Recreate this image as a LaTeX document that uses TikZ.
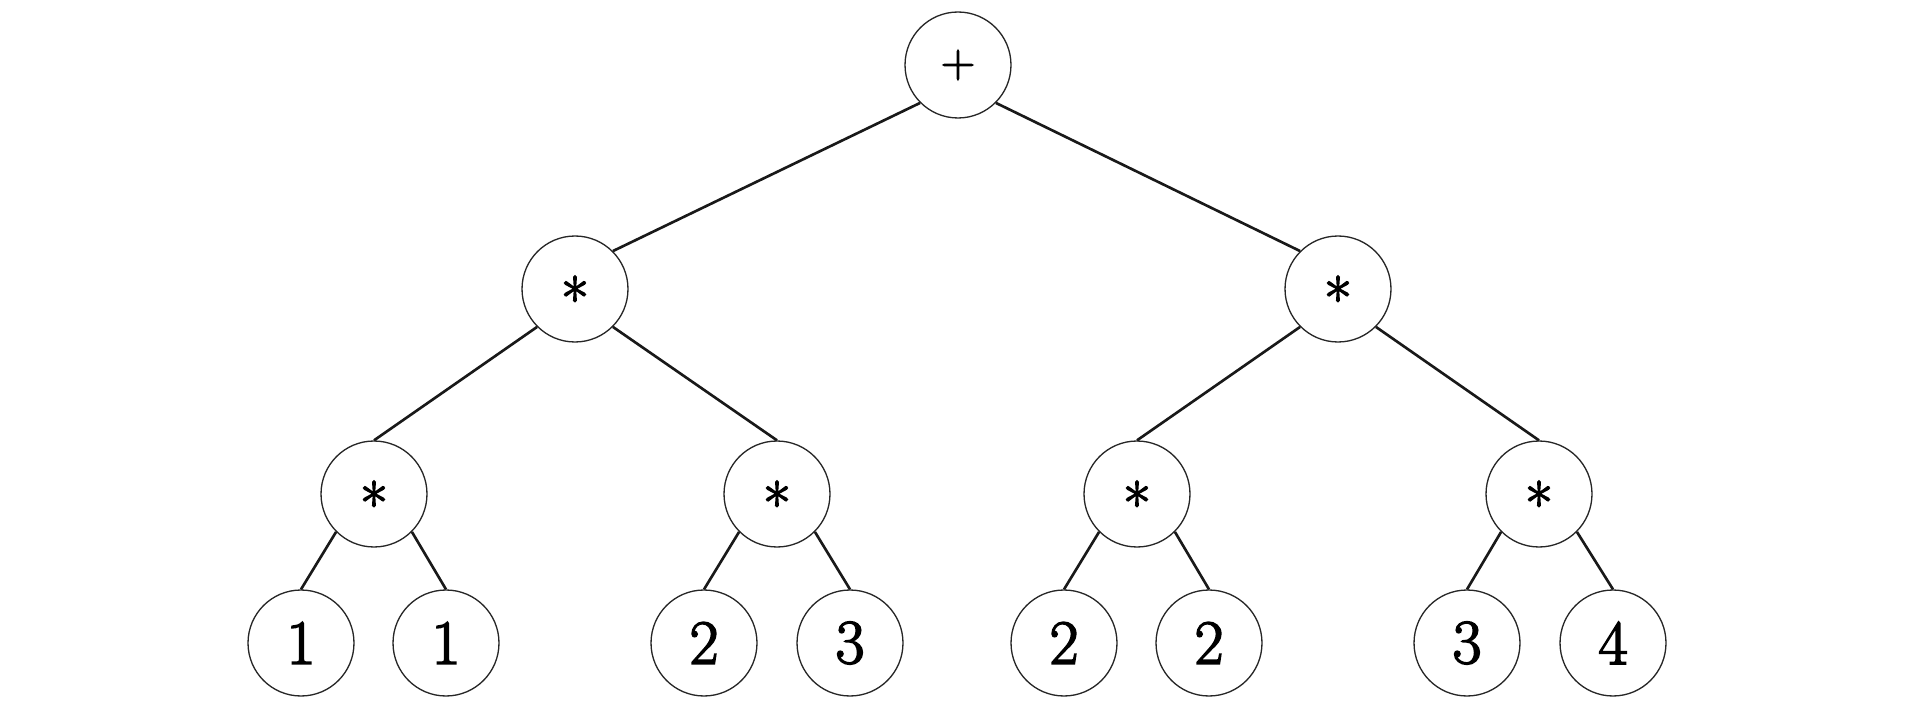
\documentclass[tikz,border=0pt]{standalone}
\usepackage{fontspec}
\newfontfamily\heavyfont{Latin Modern Roman}[FakeBold=2.5]
\newcommand{\opstar}{\smash{\raisebox{-0.53em}{*}}}
\begin{document}
\begin{tikzpicture}[x=0.02cm,y=-0.02cm,
  tnode/.style={circle,draw=black!85,line width=0.75pt,minimum size=2.12cm,inner sep=0pt},
  leaf/.style={tnode,font=\heavyfont\fontsize{36}{40}\selectfont},
  op/.style={tnode,font=\heavyfont\fontsize{34}{36}\selectfont},
  rootop/.style={tnode,font=\heavyfont\fontsize{27}{30}\selectfont},
  edge/.style={line width=1.5pt,black!90}]
\useasboundingbox (0,0) rectangle (1913,709);
\node[rootop] (r) at (958,65) {+};
\node[op] (a) at (575,289) {\opstar};
\node[op] (b) at (1338,289) {\opstar};
\node[op] (a1) at (374,494) {\opstar};
\node[op] (a2) at (777,494) {\opstar};
\node[op] (b1) at (1137,494) {\opstar};
\node[op] (b2) at (1539,494) {\opstar};
\node[leaf] (l1) at (301,643) {1};
\node[leaf] (l2) at (446,643) {1};
\node[leaf] (l3) at (704,643) {2};
\node[leaf] (l4) at (850,643) {3};
\node[leaf] (l5) at (1064,643) {2};
\node[leaf] (l6) at (1209,643) {2};
\node[leaf] (l7) at (1467,643) {3};
\node[leaf] (l8) at (1613,643) {4};
\draw[edge] (r.south west) -- (a.north east);
\draw[edge] (r.south east) -- (b.north west);
\draw[edge] (a.south west) -- (a1.north);
\draw[edge] (a.south east) -- (a2.north);
\draw[edge] (b.south west) -- (b1.north);
\draw[edge] (b.south east) -- (b2.north);
\draw[edge] (a1.south west) -- (l1.north);
\draw[edge] (a1.south east) -- (l2.north);
\draw[edge] (a2.south west) -- (l3.north);
\draw[edge] (a2.south east) -- (l4.north);
\draw[edge] (b1.south west) -- (l5.north);
\draw[edge] (b1.south east) -- (l6.north);
\draw[edge] (b2.south west) -- (l7.north);
\draw[edge] (b2.south east) -- (l8.north);
\end{tikzpicture}
\end{document}
